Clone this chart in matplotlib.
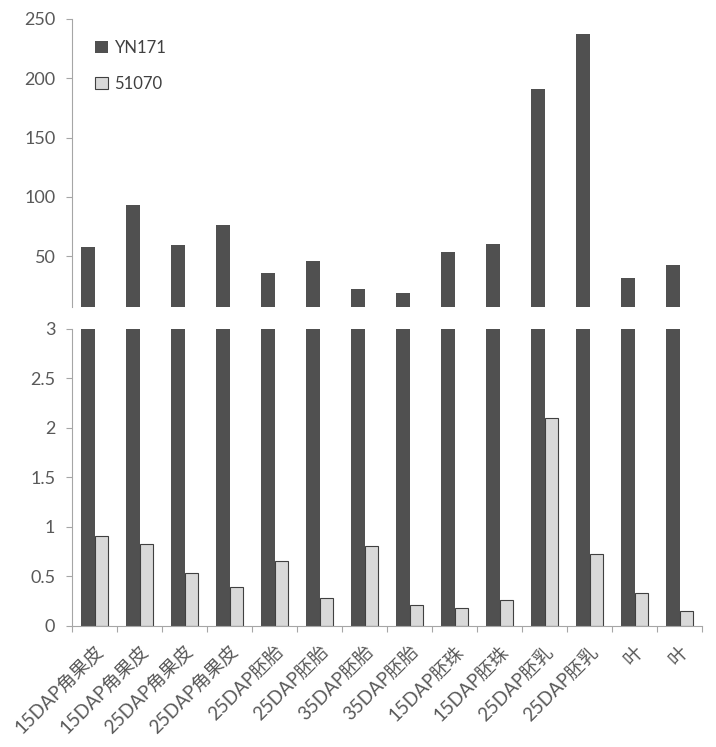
import matplotlib
matplotlib.use("Agg")
import matplotlib.pyplot as plt
import numpy as np

categories = ["15DAP角果皮", "15DAP角果皮", "25DAP角果皮", "25DAP角果皮",
              "25DAP胚胎", "25DAP胚胎", "35DAP胚胎", "35DAP胚胎",
              "15DAP胚珠", "15DAP胚珠", "25DAP胚乳", "25DAP胚乳", "叶", "叶"]
yn171 = [57.4, 93.2, 59.3, 76.3, 35.3, 46.0, 21.8, 19.0, 53.6, 59.9, 190.7, 237.5, 31.6, 42.1]
s51070 = [0.91, 0.83, 0.54, 0.39, 0.66, 0.28, 0.81, 0.21, 0.18, 0.26, 2.10, 0.73, 0.33, 0.15]
top_ticks = [50, 100, 150, 200, 250]
bottom_ticks = [0, 0.5, 1, 1.5, 2, 2.5, 3]
bottom_ticklabels = ["0", "0.5", "1", "1.5", "2", "2.5", "3"]

fam = ["Lato", "Noto Sans CJK SC", "DejaVu Sans"]
plt.rcParams["font.family"] = fam

dark = "#505050"
light = "#d9d9d9"
spine_c = "#a6a6a6"
text_c = "#595959"
fs = 13

fig = plt.figure(figsize=(7.16, 7.47), dpi=100)
left, width = 0.1006, 0.88
ax_top = fig.add_axes([left, 0.589, width, 0.9746 - 0.589])
ax_bot = fig.add_axes([left, 0.162, width, 0.5596 - 0.162])

x = np.arange(len(categories))
w = 0.3
for ax in (ax_top, ax_bot):
    ax.bar(x - w / 2, yn171, w, color=dark, label="YN171", zorder=2)
    ax.bar(x + w / 2, s51070, w, color=light, edgecolor="#404040", linewidth=0.8,
           label="51070", zorder=2)
    ax.set_xlim(-0.5, len(categories) - 0.5)
    for s in ("top", "right"):
        ax.spines[s].set_visible(False)
    ax.spines["left"].set_color(spine_c)
    ax.spines["bottom"].set_color(spine_c)
    ax.tick_params(axis="y", colors=spine_c, labelcolor=text_c, labelsize=fs,
                   length=4, width=0.8, pad=8)

ax_top.set_ylim(7, 250)
ax_top.set_yticks(top_ticks)
ax_top.spines["bottom"].set_visible(False)
ax_top.set_xticks([])

ax_bot.set_ylim(0, 3)
ax_bot.set_yticks(bottom_ticks)
ax_bot.set_yticklabels(bottom_ticklabels)
ax_bot.set_xticks(x)
ax_bot.set_xticklabels(categories, rotation=45, ha="right", rotation_mode="anchor",
                       fontsize=13.5, color=text_c)
ax_bot.tick_params(axis="x", length=0, pad=12)
ax_bot.set_xticks(np.arange(len(categories) + 1) - 0.5, minor=True)
ax_bot.tick_params(axis="x", which="minor", length=4, color=spine_c, width=0.8)

leg = ax_top.legend(loc="upper left", bbox_to_anchor=(0.012, 0.98), frameon=False,
                    fontsize=12, handlelength=0.8, handleheight=0.8,
                    labelspacing=1.2, handletextpad=0.4)
for t in leg.get_texts():
    t.set_color("#404040")

fig.savefig("out.png", dpi=100)
